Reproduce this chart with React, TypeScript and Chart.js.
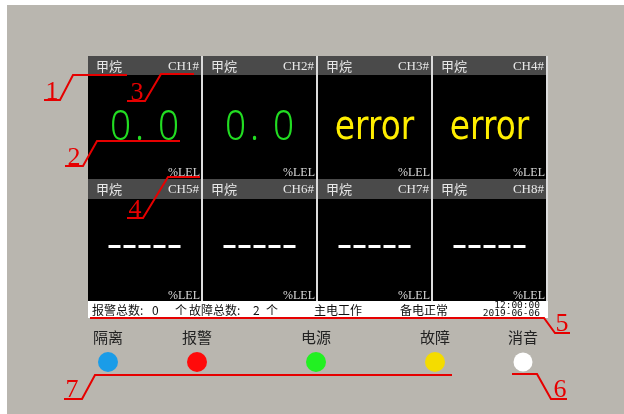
import React, { useEffect, useRef } from "react";
import { Chart, registerables } from "chart.js";

Chart.register(...registerables);

// ---------- data ----------
const channelIds = ["CH1#", "CH2#", "CH3#", "CH4#", "CH5#", "CH6#", "CH7#", "CH8#"];
const gasNames = ["甲烷", "甲烷", "甲烷", "甲烷", "甲烷", "甲烷", "甲烷", "甲烷"];
const readings: (number | null)[] = [0.0, 0.0, null, null, null, null, null, null];
const channelStates = ["normal", "normal", "error", "error", "offline", "offline", "offline", "offline"];
const unitLabel = "%LEL";
const alarmTotal = 0;
const faultTotal = 2;
const powerStates = ["主电工作", "备电正常"];
const clockTime = "12:00:00";
const clockDate = "2019-06-06";
const lampLabels = ["隔离", "报警", "电源", "故障", "消音"];
const lampColors = ["#1a9ce8", "#ff0a0a", "#22f022", "#f4dc00", "#ffffff"];
const calloutNumbers = ["1", "2", "3", "4", "5", "6", "7"];

// ---------- layout (positions / styles) ----------
const W = 624;
const H = 414;
const panelLeft = 88;
const colPitch = 115;
const cellW = 113;
const rowTops = [56, 179];
const rowBottoms = [179, 301];
const headerH = [19, 20];
const statusTop = 301;
const statusBottom = 318;
const lampX = [108, 197, 316, 435, 523];
const lampY = 362;
const lampLabelY = 337;
const calloutPaths: number[][][] = [
  [[44, 100], [60, 100], [73, 75], [127, 75]],
  [[65, 166], [83, 166], [97, 141], [180, 141]],
  [[127, 101], [145, 101], [161, 74], [194, 74]],
  [[127, 218], [143, 218], [168, 177], [200, 177]],
  [[90, 318], [544, 318], [555, 333], [570, 333]],
  [[512, 374], [537, 374], [551, 399], [567, 399]],
  [[64, 399], [82, 399], [95, 375], [452, 375]],
];
const calloutLabelPos: number[][] = [
  [52, 99], [74, 165], [137, 100], [135, 217], [562, 331], [560, 397], [72, 397],
];

const panelPlugin = {
  id: "panelPlugin",
  beforeDraw(chart: any) {
    const ctx = chart.ctx as CanvasRenderingContext2D;
    ctx.save();
    ctx.fillStyle = "#ffffff";
    ctx.fillRect(0, 0, W, H);
    ctx.fillStyle = "#b9b6af";
    ctx.fillRect(7, 5, W - 7, H - 5);
    ctx.restore();
  },
  beforeDatasetsDraw(chart: any) {
    const ctx = chart.ctx as CanvasRenderingContext2D;
    const sx = chart.scales.x;
    const sy = chart.scales.y;
    const X = (v: number) => sx.getPixelForValue(v);
    const Y = (v: number) => sy.getPixelForValue(v);
    ctx.save();

    // panel backdrop (gaps)
    ctx.fillStyle = "#dcdcdc";
    ctx.fillRect(X(panelLeft), Y(rowTops[0]), X(panelLeft + colPitch * 4) - X(panelLeft), Y(statusTop) - Y(rowTops[0]));

    channelIds.forEach((id, i) => {
      const col = i % 4;
      const row = Math.floor(i / 4);
      const x0 = panelLeft + col * colPitch;
      const top = rowTops[row];
      const bottom = rowBottoms[row];
      // body
      ctx.fillStyle = "#000000";
      ctx.fillRect(X(x0), Y(top), X(x0 + cellW) - X(x0), Y(bottom) - Y(top));
      // header
      ctx.fillStyle = "#4a4a4a";
      ctx.fillRect(X(x0), Y(top), X(x0 + cellW) - X(x0), Y(top + headerH[row]) - Y(top));
      ctx.fillStyle = "#e8e8e8";
      ctx.textBaseline = "middle";
      ctx.textAlign = "left";
      ctx.font = '13px "Noto Sans CJK SC"';
      ctx.fillText(gasNames[i], X(x0 + 8), Y(top + headerH[row] / 2 + 0.5));
      ctx.textAlign = "right";
      ctx.font = '13px "Liberation Serif"';
      ctx.fillText(id, X(x0 + 111), Y(top + headerH[row] / 2 + 1));
      // unit
      ctx.font = '12px "Liberation Serif"';
      ctx.textBaseline = "alphabetic";
      ctx.fillStyle = "#dcdcdc";
      ctx.fillText(unitLabel, X(x0 + 112), Y(top + 120));

      const cx = x0 + cellW / 2;
      const st = channelStates[i];
      if (st === "normal") {
        const txt = (readings[i] ?? 0).toFixed(1).replace(".", ". ");
        ctx.save();
        ctx.fillStyle = "#22dd22";
        ctx.font = '300 42px "Noto Sans", "DejaVu Sans"';
        ctx.textAlign = "center";
        ctx.textBaseline = "alphabetic";
        const adv = 16;
        const chars = txt.split("");
        chars.forEach((c, k) => {
          const off = (k - (chars.length - 1) / 2) * adv + (c === "." ? 3 : 0);
          ctx.save();
          ctx.translate(X(cx + off), Y(top + 84));
          ctx.scale(0.88, 1);
          ctx.fillText(c, 0, 0);
          ctx.restore();
        });
        ctx.restore();
      } else if (st === "error") {
        ctx.save();
        ctx.fillStyle = "#ffee00";
        ctx.font = '40px "DejaVu Sans"';
        ctx.textAlign = "center";
        ctx.textBaseline = "alphabetic";
        ctx.translate(X(cx), Y(top + 83));
        ctx.scale(0.82, 1);
        ctx.fillText("error", 0, 0);
        ctx.restore();
      } else {
        const n = 5;
        const dw = 12;
        const gap = 3;
        const total = n * dw + (n - 1) * gap;
        ctx.fillStyle = "#ffffff";
        for (let k = 0; k < n; k++) {
          const dx = cx - total / 2 + k * (dw + gap);
          ctx.fillRect(X(dx), Y(top + 66), X(dx + dw) - X(dx), 3);
        }
      }
    });

    // status bar
    ctx.fillStyle = "#ffffff";
    ctx.fillRect(X(panelLeft), Y(statusTop), X(panelLeft + colPitch * 4) - X(panelLeft), Y(statusBottom) - Y(statusTop));
    ctx.fillStyle = "#111111";
    ctx.font = '12px "Noto Sans CJK SC"';
    ctx.textBaseline = "middle";
    ctx.textAlign = "left";
    const sy0 = Y(310);
    ctx.fillText("报警总数:", X(92), sy0);
    ctx.fillText(String(alarmTotal), X(152), sy0);
    ctx.fillText("个", X(175), sy0);
    ctx.fillText("故障总数:", X(189), sy0);
    ctx.fillText(String(faultTotal), X(253), sy0);
    ctx.fillText("个", X(266), sy0);
    ctx.fillText(powerStates[0], X(314), sy0);
    ctx.fillText(powerStates[1], X(400), sy0);
    ctx.textAlign = "right";
    ctx.textBaseline = "alphabetic";
    ctx.font = '9.5px "DejaVu Sans Mono"';
    ctx.fillText(clockTime, X(540), Y(308));
    ctx.fillText(clockDate, X(540), Y(316));

    // lamp labels
    ctx.fillStyle = "#222222";
    ctx.font = '15px "Noto Sans CJK SC"';
    ctx.textAlign = "center";
    ctx.textBaseline = "middle";
    lampLabels.forEach((l, i) => ctx.fillText(l, X(lampX[i]), Y(lampLabelY)));

    ctx.restore();
  },
  afterDatasetsDraw(chart: any) {
    const ctx = chart.ctx as CanvasRenderingContext2D;
    const sx = chart.scales.x;
    const sy = chart.scales.y;
    const X = (v: number) => sx.getPixelForValue(v);
    const Y = (v: number) => sy.getPixelForValue(v);
    ctx.save();
    ctx.strokeStyle = "#e60000";
    ctx.lineWidth = 2;
    ctx.lineJoin = "miter";
    calloutPaths.forEach((p) => {
      ctx.beginPath();
      p.forEach(([x, y], k) => (k === 0 ? ctx.moveTo(X(x), Y(y)) : ctx.lineTo(X(x), Y(y))));
      ctx.stroke();
    });
    ctx.fillStyle = "#e60000";
    ctx.font = '26px "Liberation Serif"';
    ctx.textAlign = "center";
    ctx.textBaseline = "alphabetic";
    calloutNumbers.forEach((n, i) => ctx.fillText(n, X(calloutLabelPos[i][0]), Y(calloutLabelPos[i][1])));
    ctx.restore();
  },
};

export default function App() {
  const ref = useRef<HTMLCanvasElement | null>(null);
  useEffect(() => {
    if (!ref.current) return;
    const chart = new Chart(ref.current, {
      type: "scatter",
      data: {
        datasets: [
          {
            data: lampLabels.map((_, i) => ({ x: lampX[i], y: lampY })),
            backgroundColor: lampColors,
            borderWidth: 0,
            pointRadius: lampLabels.map((_, i) => (i === 4 ? 9.5 : 10)),
            pointHoverRadius: 10,
            clip: false,
          },
        ],
      },
      options: {
        responsive: false,
        maintainAspectRatio: false,
        animation: false,
        events: [],
        layout: { padding: 0, autoPadding: false },
        plugins: { legend: { display: false }, tooltip: { enabled: false } },
        scales: {
          x: { type: "linear", min: 0, max: W, display: false },
          y: { type: "linear", min: 0, max: H, reverse: true, display: false },
        },
      },
      plugins: [panelPlugin],
    });
    return () => chart.destroy();
  }, []);
  return (
    <div style={{ position: "fixed", left: 0, top: 0, width: W, height: H }}>
      <canvas ref={ref} width={W} height={H} style={{ display: "block", width: W, height: H }} />
    </div>
  );
}
